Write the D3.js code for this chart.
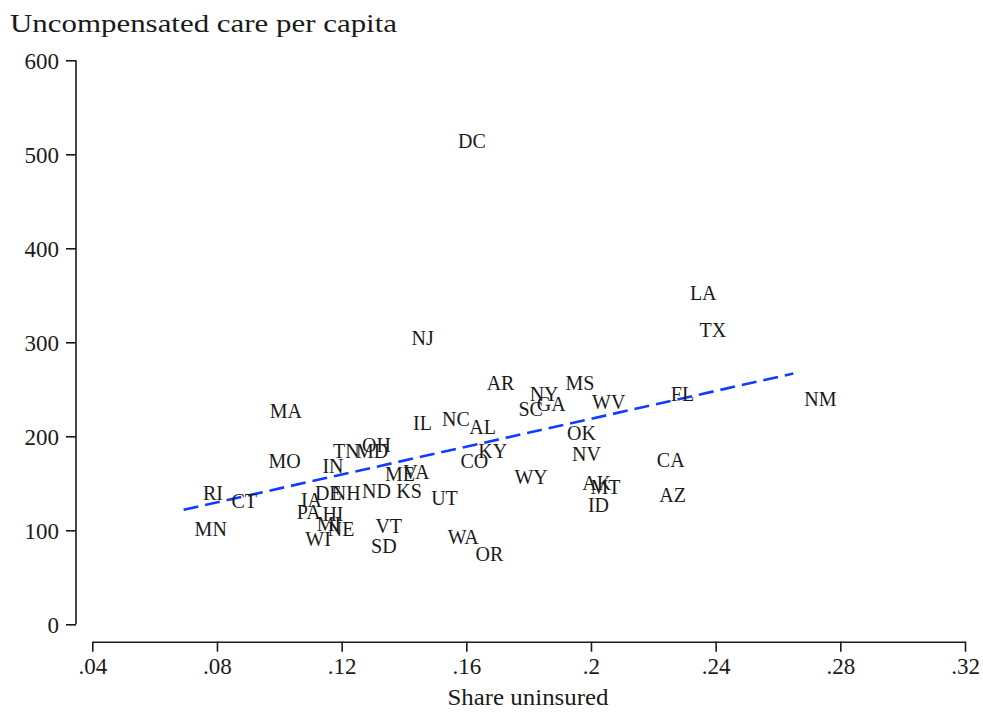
<!DOCTYPE html>
<html>
<head>
<meta charset="utf-8">
<script src="https://cdn.jsdelivr.net/npm/d3@7"></script>
<style>
  body { margin: 0; background: #fff; }
  text { font-family: "Liberation Serif", "Times New Roman", serif; fill: #1a1a1a; }
</style>
</head>
<body>
<div id="chart"></div>
<script>
// state labels, share uninsured, uncompensated care per capita
const states = ["DC","LA","TX","NJ","NM","AR","MS","NY","SC","GA","WV","FL","MA","IL","NC","AL","OK",
  "OH","TN","MD","KY","CO","NV","CA","MO","IN","ME","VA","WY","AK","MT","ID","AZ","RI","CT","IA",
  "DE","NH","ND","KS","UT","PA","HI","MI","NE","WI","MN","VT","SD","WA","OR"];
const uninsured = [0.1538,0.2282,0.2313,0.1389,0.2649,0.1630,0.1883,0.1768,0.1732,0.1791,0.1968,0.2221,
  0.0934,0.1394,0.1487,0.1574,0.1888,0.1230,0.1137,0.1211,0.1603,0.1546,0.1904,0.2176,0.0930,0.1103,
  0.1304,0.1362,0.1719,0.1937,0.1963,0.1955,0.2184,0.0720,0.0811,0.1034,0.1079,0.1133,0.1230,0.1340,
  0.1452,0.1021,0.1103,0.1085,0.1120,0.1048,0.0693,0.1273,0.1259,0.1505,0.1594];
const careCost = [514,352,313,304,240,256,257,245,229,234,236,245,227,214,218,210,203,191,184,184,184,
  173,181,175,173,168,160,162,157,150,146,127,137,140,131,132,139,139,142,142,134,119,117,106,101,91,
  101,104,83,93,75];

const xTicks = [0.04,0.08,0.12,0.16,0.20,0.24,0.28,0.32];
const yTicks = [0,100,200,300,400,500,600];

const width = 983, height = 713;
const svg = d3.select("#chart").append("svg")
    .attr("width", width)
    .attr("height", height);

const x = d3.scaleLinear().domain([0.04, 0.32]).range([92.3, 965]);
const y = d3.scaleLinear().domain([0, 600]).range([624.3, 60.3]);

const data = states.map((s, i) => ({ state: s, x: uninsured[i], y: careCost[i] }));

// y axis
const yAxis = svg.append("g")
    .attr("transform", "translate(76,0)")
    .call(d3.axisLeft(y).tickValues(yTicks).tickSize(10).tickPadding(7).tickFormat(d3.format("d")).tickSizeOuter(0));
yAxis.select(".domain").attr("stroke", "#1a1a1a").attr("stroke-width", 1.6)
    .attr("d", `M0,${y(0)}V${y(600)}`);
yAxis.selectAll(".tick line").attr("stroke", "#1a1a1a").attr("stroke-width", 1.6);
yAxis.selectAll(".tick text").style("font-size", "23px").attr("dy", "0.34em");

// x axis
const fmtX = d => d3.format(".2f")(d).replace(/^0/, "").replace(/0$/, "");
const xAxis = svg.append("g")
    .attr("transform", "translate(0,641.7)")
    .call(d3.axisBottom(x).tickValues(xTicks).tickSize(10).tickPadding(6).tickFormat(fmtX).tickSizeOuter(0));
xAxis.select(".domain").attr("stroke", "#1a1a1a").attr("stroke-width", 1.6);
xAxis.selectAll(".tick line").attr("stroke", "#1a1a1a").attr("stroke-width", 1.6);
xAxis.selectAll(".tick text").style("font-size", "23px");

// titles
svg.append("text")
    .attr("x", 10).attr("y", 32)
    .attr("textLength", 387).attr("lengthAdjust", "spacingAndGlyphs")
    .style("font-size", "26px")
    .text("Uncompensated care per capita");

svg.append("text")
    .attr("x", 528).attr("y", 705)
    .attr("text-anchor", "middle")
    .attr("textLength", 161).attr("lengthAdjust", "spacingAndGlyphs")
    .style("font-size", "23px")
    .text("Share uninsured");

// linear fit
const mx = d3.mean(data, d => d.x), my = d3.mean(data, d => d.y);
const slope = d3.sum(data, d => (d.x - mx) * (d.y - my)) / d3.sum(data, d => (d.x - mx) ** 2);
const intercept = my - slope * mx;
const xExt = d3.extent(data, d => d.x);
const fit = xExt.map(v => ({ x: v, y: intercept + slope * v }));

svg.append("path")
    .datum(fit)
    .attr("fill", "none")
    .attr("stroke", "#0f3cff")
    .attr("stroke-width", 2.6)
    .attr("stroke-dasharray", "15,7")
    .attr("d", d3.line().x(d => x(d.x)).y(d => y(d.y)));

// state labels, to the right of each point
svg.selectAll(".label")
    .data(data)
  .enter().append("text")
    .attr("class", "label")
    .attr("x", d => x(d.x) + 11)
    .attr("y", d => y(d.y))
    .attr("dy", "0.34em")
    .style("font-size", "20px")
    .text(d => d.state);
</script>
</body>
</html>
